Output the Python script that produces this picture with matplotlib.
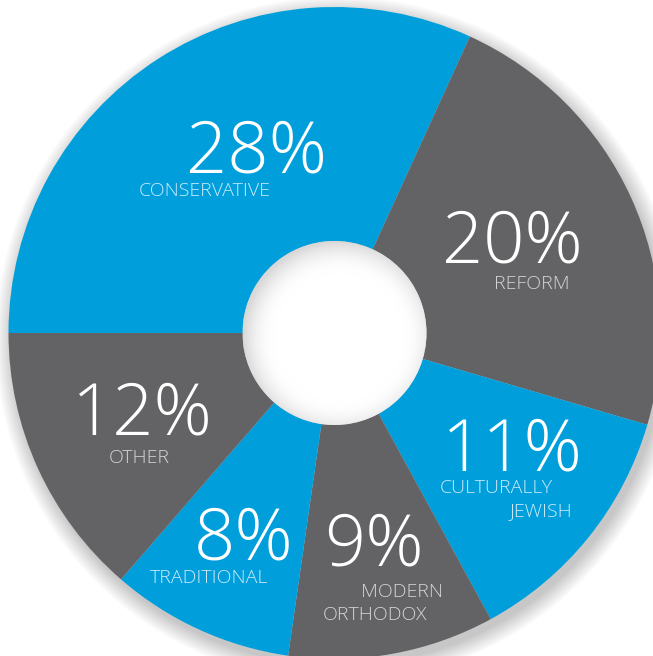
import numpy as np
import matplotlib
matplotlib.use("Agg")
import matplotlib.pyplot as plt
from matplotlib.patches import Circle

# data
categories = ["CONSERVATIVE", "REFORM", "CULTURALLY\nJEWISH", "MODERN\nORTHODOX", "TRADITIONAL", "OTHER"]
shares = [28, 20, 11, 9, 8, 12]

BLUE = "#009fdc"
GRAY = "#636365"
wedge_colors = [BLUE, GRAY, BLUE, GRAY, BLUE, GRAY]

W, H = 653, 656
cx, cy, R = 334.5, 333.0, 326.0     # pixel centre / radius of the donut
hole = 92.0 / R

fig = plt.figure(figsize=(W / 100, H / 100), dpi=100)
ax = fig.add_axes([0, 0, 1, 1])


def px(x, y):
    # pixel (from top-left) -> data coords
    return (x - cx) / R, (cy - y) / R


# soft drop shadow under the ring
for i in range(14):
    ax.add_patch(Circle((0.012, -0.02), 1.0 + 0.004 * i, color="#000000",
                        alpha=0.015, lw=0, zorder=0))

ax.pie(shares, colors=wedge_colors, startangle=180, counterclock=False,
       radius=1.0, wedgeprops=dict(width=1 - hole, linewidth=0),
       center=(0, 0), frame=True)
ax.set_xlim(-cx / R, (W - cx) / R)
ax.set_ylim(-(H - cy) / R, cy / R)
ax.set_aspect("auto")
ax.axis("off")

# faint inner shadow of the hole (radial gradient, offset down-right)
n = 200
g = np.linspace(-hole, hole, n)
gx, gy = np.meshgrid(g, g)
d = np.hypot(gx - 0.05 * hole, gy + 0.05 * hole) / hole
shade = 1 - 0.15 * np.clip((d - 0.7) / 0.35, 0, 1) ** 2
img = np.dstack([shade, shade, shade])
clip = Circle((0, 0), hole, transform=ax.transData)
im = ax.imshow(img, extent=(-hole, hole, -hole, hole), origin="lower",
               zorder=5, interpolation="bilinear")
im.set_clip_path(clip)
ax.set_xlim(-cx / R, (W - cx) / R)
ax.set_ylim(-(H - cy) / R, cy / R)
ax.set_aspect("auto")

FAM = ["Open Sans", "DejaVu Sans"]
num_font = dict(family=FAM, fontweight="light", color="white",
                fontsize=52, zorder=30)
lab_blue = dict(family=FAM, fontweight="light", color="#c9ebfa",
                fontsize=14, zorder=30)
lab_gray = dict(family=FAM, fontweight="light", color="#d4d4d6",
                fontsize=14, zorder=30)

# (left x, baseline y) in pixels for each big number
num_pos = [(186, 173), (442, 263), (442, 471), (324, 565), (194, 559), (72, 435)]
# label lines: (text, left x, right x, baseline y, style)
label_lines = [
    ("CONSERVATIVE", 130, 280, 196, lab_blue),
    ("REFORM", 491, 572, 289, lab_gray),
    ("CULTURALLY", 436, 557, 493, lab_blue),
    ("JEWISH", 505, 577, 516, lab_blue),
    ("MODERN", 358, 445, 597, lab_gray),
    ("ORTHODOX", 317, 432, 620, lab_gray),
    ("TRADITIONAL", 147, 272, 583, lab_blue),
    ("OTHER", 106, 173, 463, lab_gray),
]

for s, (x, y) in zip(shares, num_pos):
    ax.text(*px(x, y), f"{s}%", ha="left", va="baseline", **num_font)

for txt, x0, x1, y, st in label_lines:
    ax.text(*px((x0 + x1) / 2, y), txt, ha="center", va="baseline", **st)

fig.savefig("out.png", dpi=100, facecolor="white")
